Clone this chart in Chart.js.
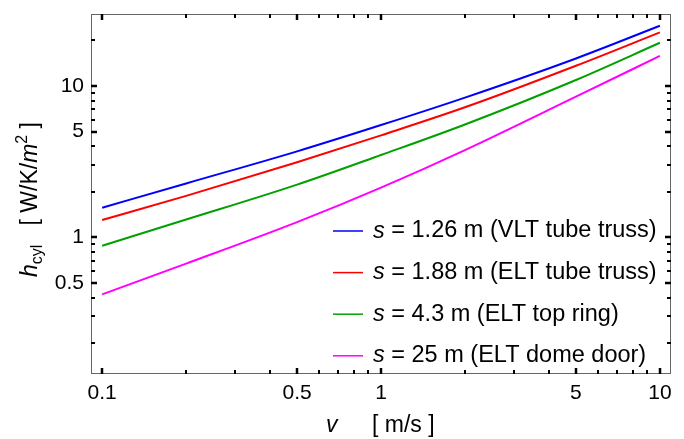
<!DOCTYPE html>
<html>
<head>
<meta charset="utf-8">
<script src="https://cdn.jsdelivr.net/npm/chart.js@4"></script>
<style>
  html, body { margin: 0; padding: 0; background: #fff; }
  #wrap { width: 684px; height: 439px; }
</style>
</head>
<body>
<div id="wrap"><canvas id="chart" width="684" height="439"></canvas></div>
<script>
// wind speed v [m/s]
const speeds = [0.1, 0.2, 0.5, 1, 2, 5, 10];

// heat transfer coefficient h_cyl [W/K/m^2] for each member size s
const hVltTube = [1.57, 2.27, 3.70, 5.52, 8.38, 15.2, 25.0];
const hEltTube = [1.30, 1.88, 3.13, 4.72, 7.23, 13.6, 22.6];
const hEltRing = [0.88, 1.31, 2.23, 3.50, 5.57, 10.96, 19.3];
const hEltDoor = [0.42, 0.67, 1.26, 2.13, 3.77, 8.5, 15.8];

const seriesLabels = [
  "s = 1.26 m (VLT tube truss)",
  "s = 1.88 m (ELT tube truss)",
  "s = 4.3 m (ELT top ring)",
  "s = 25 m (ELT dome door)"
];
const seriesColors = ["#0000ff", "#ff0000", "#00a000", "#ff00ff"];

const xTickValues = [0.1, 0.2, 0.3, 0.4, 0.5, 0.6, 0.7, 0.8, 0.9, 1, 2, 3, 4, 5, 6, 7, 8, 9, 10];
const xTickLabels = [0.1, 0.5, 1, 5, 10];
const yTickValues = [0.2, 0.3, 0.4, 0.5, 0.6, 0.7, 0.8, 0.9, 1, 2, 3, 4, 5, 6, 7, 8, 9, 10, 20];
const yTickLabels = [0.5, 1, 5, 10];

const FONT = "'Liberation Sans', Arial, sans-serif";

const toPoints = (ys) => speeds.map((v, i) => ({ x: v, y: ys[i] }));

// frame with inward ticks on all four sides
const framePlugin = {
  id: "frame",
  afterDraw(chart) {
    const { ctx, chartArea: a, scales } = chart;
    ctx.save();
    ctx.strokeStyle = "#666";
    ctx.lineWidth = 1;
    ctx.strokeRect(a.left + 0.5, a.top + 0.5, a.right - a.left - 1, a.bottom - a.top - 1);

    ctx.strokeStyle = "#000";
    xTickValues.forEach((v) => {
      const major = xTickLabels.includes(v);
      const len = major ? 6 : 4;
      ctx.lineWidth = major ? 2.5 : 2;
      const px = Math.round(scales.x.getPixelForValue(v));
      ctx.beginPath();
      ctx.moveTo(px, a.bottom);
      ctx.lineTo(px, a.bottom - len);
      ctx.moveTo(px, a.top);
      ctx.lineTo(px, a.top + len);
      ctx.stroke();
    });
    yTickValues.forEach((v) => {
      const major = yTickLabels.includes(v);
      const len = major ? 6 : 4;
      ctx.lineWidth = major ? 2.5 : 2;
      const py = Math.round(scales.y.getPixelForValue(v));
      ctx.beginPath();
      ctx.moveTo(a.left, py);
      ctx.lineTo(a.left + len, py);
      ctx.moveTo(a.right, py);
      ctx.lineTo(a.right - len, py);
      ctx.stroke();
    });
    ctx.restore();
  }
};

// draws a run of text pieces: [text, size, italic, dy]
function drawRich(ctx, parts, x, y) {
  let cx = x;
  parts.forEach(([text, size, italic, dy]) => {
    ctx.font = (italic ? "italic " : "") + size + "px " + FONT;
    ctx.fillText(text, cx, y + (dy || 0));
    cx += ctx.measureText(text).width;
  });
}

const labelsPlugin = {
  id: "labels",
  afterDraw(chart) {
    const { ctx } = chart;
    ctx.save();
    ctx.fillStyle = "#000";
    ctx.textBaseline = "alphabetic";

    // x axis title
    drawRich(ctx, [["v", 23, true]], 326, 432);
    drawRich(ctx, [["[ m/s ]", 23, false]], 372, 432);

    // y axis title, rotated
    ctx.save();
    ctx.translate(37, 277);
    ctx.rotate(-Math.PI / 2);
    drawRich(ctx, [
      ["h", 23, true],
      ["cyl", 16, false, 5],
      ["   [ W/K/", 23, false],
      ["m", 23, true],
      ["2", 16, false, -10],
      [" ]", 23, false]
    ], 0, 0);
    ctx.restore();

    // legend
    ctx.textBaseline = "middle";
    chart.data.datasets.forEach((ds, i) => {
      const y = 231 + i * 41.6;
      ctx.strokeStyle = ds.borderColor;
      ctx.lineWidth = 1.5;
      ctx.beginPath();
      ctx.moveTo(333, y);
      ctx.lineTo(363, y);
      ctx.stroke();
      drawRich(ctx, [[ds.label.slice(0, 1), 23.5, true], [ds.label.slice(1), 23.5, false]], 373, y);
    });
    ctx.restore();
  }
};

new Chart(document.getElementById("chart"), {
  type: "line",
  data: {
    datasets: [hVltTube, hEltTube, hEltRing, hEltDoor].map((ys, i) => ({
      label: seriesLabels[i],
      data: toPoints(ys),
      borderColor: seriesColors[i],
      borderWidth: 2,
      pointRadius: 0,
      fill: false,
      cubicInterpolationMode: "monotone"
    }))
  },
  options: {
    responsive: false,
    animation: false,
    layout: { padding: { top: 14, right: 13, left: 0, bottom: 0 } },
    plugins: { legend: { display: false }, tooltip: { enabled: false } },
    scales: {
      x: {
        type: "logarithmic",
        min: 0.0912,
        max: 10.96,
        grid: { display: false, drawTicks: false },
        border: { display: false },
        afterBuildTicks: (s) => { s.ticks = xTickValues.map((v) => ({ value: v })); },
        afterFit: (s) => {
          s.height = 65;
          s.paddingLeft = 0;
          s.paddingRight = 0;
        },
        ticks: {
          autoSkip: false,
          maxRotation: 0,
          padding: 7,
          color: "#000",
          font: { family: FONT, size: 21 },
          callback: (v) => (xTickLabels.includes(v) ? String(v) : "")
        }
      },
      y: {
        type: "logarithmic",
        min: 0.125,
        max: 29.9,
        grid: { display: false, drawTicks: false },
        border: { display: false },
        afterBuildTicks: (s) => { s.ticks = yTickValues.map((v) => ({ value: v })); },
        afterFit: (s) => {
          s.width = 91;
          s.paddingTop = 0;
          s.paddingBottom = 0;
        },
        ticks: {
          autoSkip: false,
          padding: 7,
          color: "#000",
          font: { family: FONT, size: 21 },
          callback: (v) => (yTickLabels.includes(v) ? String(v) : "")
        }
      }
    }
  },
  plugins: [framePlugin, labelsPlugin]
});
</script>
</body>
</html>
